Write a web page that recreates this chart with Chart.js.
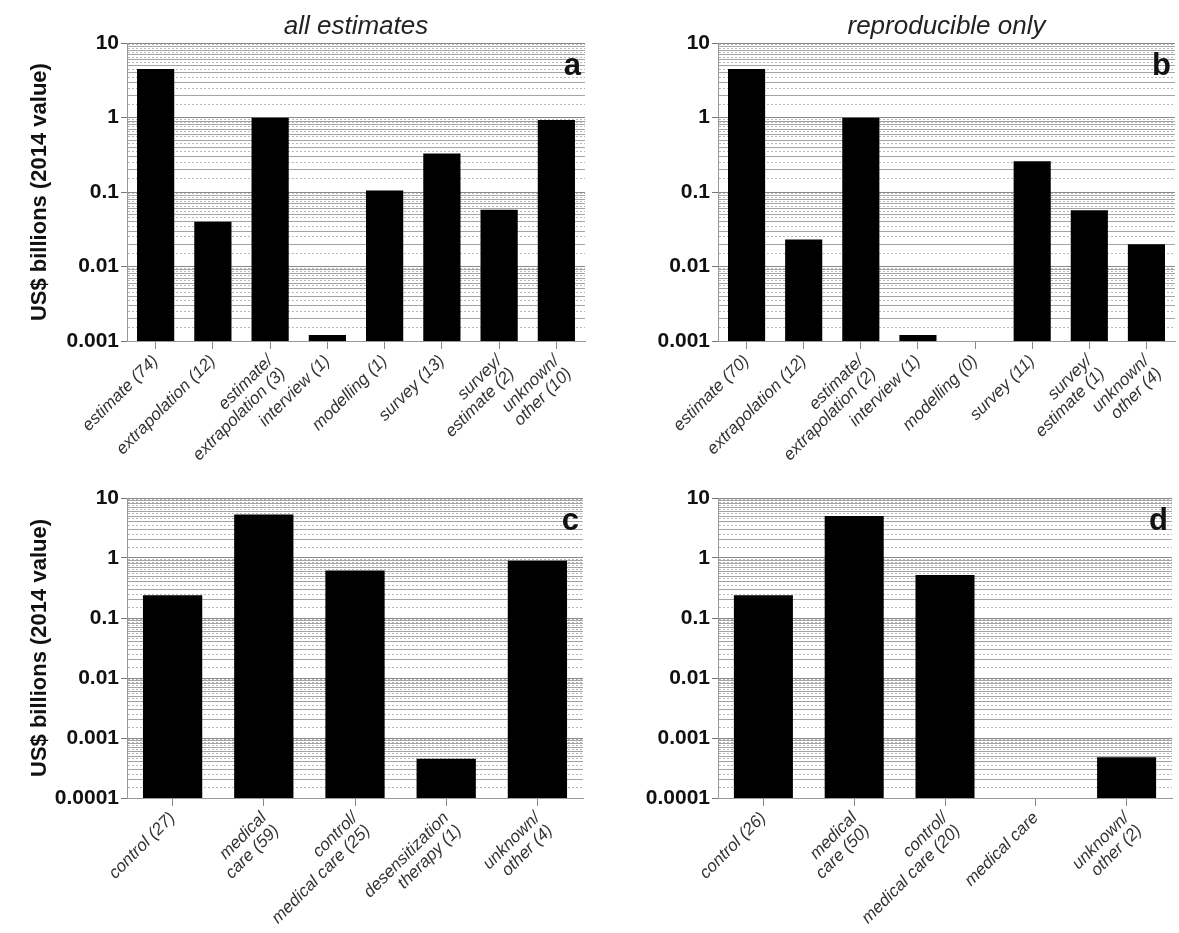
<!DOCTYPE html>
<html>
<head>
<meta charset="utf-8">
<script src="https://cdn.jsdelivr.net/npm/chart.js@4"></script>
<style>
  body { margin: 0; background: #fff; }
  #wrap { position: relative; width: 1179px; height: 933px; }
  .panel { position: absolute; }
</style>
</head>
<body>
<div id="wrap">
  <div class="panel" style="left:0;top:0;width:590px;height:470px"><canvas id="chartA"></canvas></div>
  <div class="panel" style="left:590px;top:0;width:589px;height:470px"><canvas id="chartB"></canvas></div>
  <div class="panel" style="left:0;top:470px;width:590px;height:463px"><canvas id="chartC"></canvas></div>
  <div class="panel" style="left:590px;top:470px;width:589px;height:463px"><canvas id="chartD"></canvas></div>
</div>
<script>
// ---- data ----
const methodLabelsA = ["estimate (74)", "extrapolation (12)", ["estimate/", "extrapolation (3)"], "interview (1)", "modelling (1)", "survey (13)", ["survey/", "estimate (2)"], ["unknown/", "other (10)"]];
const methodValuesA = [4.5, 0.04, 1.0, 0.0012, 0.105, 0.33, 0.058, 0.93];

const methodLabelsB = ["estimate (70)", "extrapolation (12)", ["estimate/", "extrapolation (2)"], "interview (1)", "modelling (0)", "survey (11)", ["survey/", "estimate (1)"], ["unknown/", "other (4)"]];
const methodValuesB = [4.5, 0.023, 1.0, 0.0012, null, 0.26, 0.057, 0.02];

const typeLabelsC = ["control (27)", ["medical", "care (59)"], ["control/", "medical care (25)"], ["desensitization", "therapy (1)"], ["unknown/", "other (4)"]];
const typeValuesC = [0.24, 5.3, 0.62, 0.00045, 0.9];

const typeLabelsD = ["control (26)", ["medical", "care (50)"], ["control/", "medical care (20)"], "medical care", ["unknown/", "other (2)"]];
const typeValuesD = [0.24, 5.0, 0.52, null, 0.00048];

const yTicksTop = [10, 1, 0.1, 0.01, 0.001];
const yTicksBottom = [10, 1, 0.1, 0.01, 0.001, 0.0001];

const yAxisTitle = "US$ billions (2014 value)";
const FONT = "Arial, 'Liberation Sans', sans-serif";

// solid lines at n*10^k, dotted lines half-way between them
function gridValues(majors) {
  const out = [];
  const lo = Math.min(...majors);
  for (const m of majors) {
    if (m === lo) { out.push(m); continue; }
    for (let n = 1; n <= 9; n++) {
      const base = m / 10;
      if (n === 1) out.push(m); else out.push(base * n);
      out.push(base * (n + 0.5));
    }
  }
  return out;
}
function isDotted(v) {
  const e = Math.floor(Math.log10(v) + 1e-9);
  const m = v / Math.pow(10, e);
  return Math.abs(m - Math.round(m)) > 0.1;
}

const panelLetter = {
  id: "panelLetter",
  afterDraw(chart, args, opts) {
    const { ctx, chartArea } = chart;
    ctx.save();
    ctx.font = "bold 31px " + FONT;
    ctx.fillStyle = "#111";
    ctx.textAlign = "right";
    ctx.textBaseline = "alphabetic";
    ctx.fillText(opts.text, chartArea.right - 4, chartArea.top + 32);
    ctx.restore();
  }
};

function makePanel(id, labels, values, yTicks, cfg) {
  new Chart(document.getElementById(id), {
    type: "bar",
    data: {
      labels: labels,
      datasets: [{
        data: values,
        backgroundColor: "#000",
        borderWidth: 0,
        barPercentage: 0.65,
        categoryPercentage: 1.0,
      }],
    },
    options: {
      responsive: true,
      maintainAspectRatio: false,
      animation: false,
      layout: { padding: { top: cfg.top, right: cfg.right, left: 0, bottom: 0 } },
      plugins: {
        legend: { display: false },
        tooltip: { enabled: false },
        title: {
          display: !!cfg.title,
          text: cfg.title || "",
          fullSize: false,
          color: "#222",
          font: { family: FONT, size: 26, style: "italic", weight: "normal", lineHeight: 1.2 },
          padding: { top: 11, bottom: 1 },
        },
        panelLetter: { text: cfg.letter },
      },
      scales: {
        x: {
          grid: { offset: false, drawOnChartArea: false, drawTicks: true, tickLength: 8, tickColor: "#888" },
          border: { color: "#999", width: 1 },
          ticks: {
            autoSkip: false, minRotation: 45, maxRotation: 45, padding: 3,
            color: "#333",
            font: { family: FONT, size: 17, style: "italic", lineHeight: 1.05 },
          },
          afterFit: (s) => { s.height = cfg.xHeight; },
        },
        y: {
          type: "logarithmic",
          min: Math.min(...yTicks),
          max: Math.max(...yTicks),
          afterBuildTicks: (s) => { s.ticks = gridValues(yTicks).map((v) => ({ value: v })); },
          afterFit: (s) => { s.width = cfg.yWidth; },
          ticks: {
            autoSkip: false,
            padding: 2,
            color: "#111",
            font: { family: FONT, size: 21, weight: "bold" },
            callback: (v) => (yTicks.includes(v) ? String(v) : ""),
          },
          grid: {
            tickLength: 6,
            color: (c) => (c.tick ? (yTicks.includes(c.tick.value) ? "#8a8a8a" : isDotted(c.tick.value) ? "#b8b8b8" : "#a4a4a4") : "#999"),
            tickColor: (c) => (c.tick && yTicks.includes(c.tick.value) ? "#777" : "rgba(0,0,0,0)"),
            lineWidth: 1,
          },
          border: {
            color: "#999",
            width: 1,
            dash: (c) => (c.tick && isDotted(c.tick.value) ? [2, 2] : []),
          },
          title: {
            display: !!cfg.yTitle,
            text: cfg.yTitle || "",
            color: "#111",
            font: { family: FONT, size: 22, weight: "bold", lineHeight: 1.2 },
            padding: { top: 27, bottom: 0 },
          },
        },
      },
    },
    plugins: [panelLetter],
  });
}

makePanel("chartA", methodLabelsA, methodValuesA, yTicksTop,
  { title: "all estimates", letter: "a", yTitle: yAxisTitle, top: 0, right: 5, xHeight: 129, yWidth: 127 });
makePanel("chartB", methodLabelsB, methodValuesB, yTicksTop,
  { title: "reproducible only", letter: "b", yTitle: "", top: 0, right: 4, xHeight: 129, yWidth: 128 });
makePanel("chartC", typeLabelsC, typeValuesC, yTicksBottom,
  { title: "", letter: "c", yTitle: yAxisTitle, top: 28, right: 7, xHeight: 135, yWidth: 127 });
makePanel("chartD", typeLabelsD, typeValuesD, yTicksBottom,
  { title: "", letter: "d", yTitle: "", top: 28, right: 7, xHeight: 135, yWidth: 128 });
</script>
</body>
</html>
